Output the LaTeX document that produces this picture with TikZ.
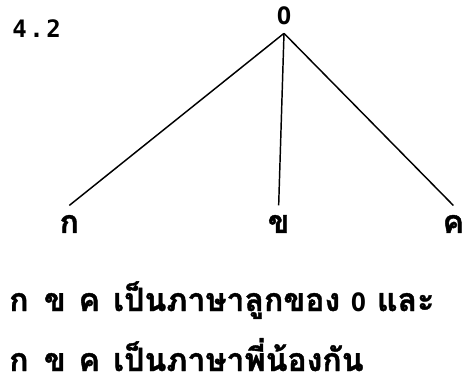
\documentclass[tikz,border=0pt]{standalone}
\usepackage{fontspec}
\setmainfont{DejaVu Sans Mono}
\newfontfamily\thaifont[Script=Thai, BoldFeatures={FakeBold=1.2}]{Loma}
\usetikzlibrary{positioning}
\newcommand\slot[1]{\makebox[26pt][l]{#1}}
\newcommand\latinO{{\normalfont\bfseries\fontsize{19}{22}\selectfont O}}

\begin{document}
\begin{tikzpicture}[
  x=0.75pt, y=-0.75pt,
  every node/.style={font=\thaifont\bfseries\fontsize{24}{28}\selectfont, inner sep=0pt},
  latin/.style={font=\bfseries\fontsize{18}{21}\selectfont},
  level distance=156pt,
  sibling distance=144pt,
  edge from parent/.style={draw, line width=1.1pt},
  edge from parent path={(\tikzparentnode.south) -- (\tikzchildnode.north)}
]
\useasboundingbox (0,0) rectangle (468,381);
\node[latin, anchor=base west] (num) at (12,38) {4\hspace{2pt}.\hspace{2pt}2};
\node[latin, inner xsep=0pt, inner ysep=6pt] (root) at (284,16) {O}
  child[xshift=-17pt] { node[inner ysep=7pt] (ko) {ก} }
  child[xshift=-4pt] { node[inner ysep=7pt] (kho) {ข} }
  child[xshift=-17pt] { node[inner ysep=7pt] (khho) {ค} };
% the two sentences
\node[anchor=base west] (line1) at (9,311)
  {\slot{ก}\slot{ข}\slot{ค}เป็นภาษาลูกของ \latinO\ และ};
\node[anchor=base west] (line2) at (9,371)
  {\slot{ก}\slot{ข}\slot{ค}เป็นภาษาพี่น้องกัน};
\end{tikzpicture}
\end{document}
